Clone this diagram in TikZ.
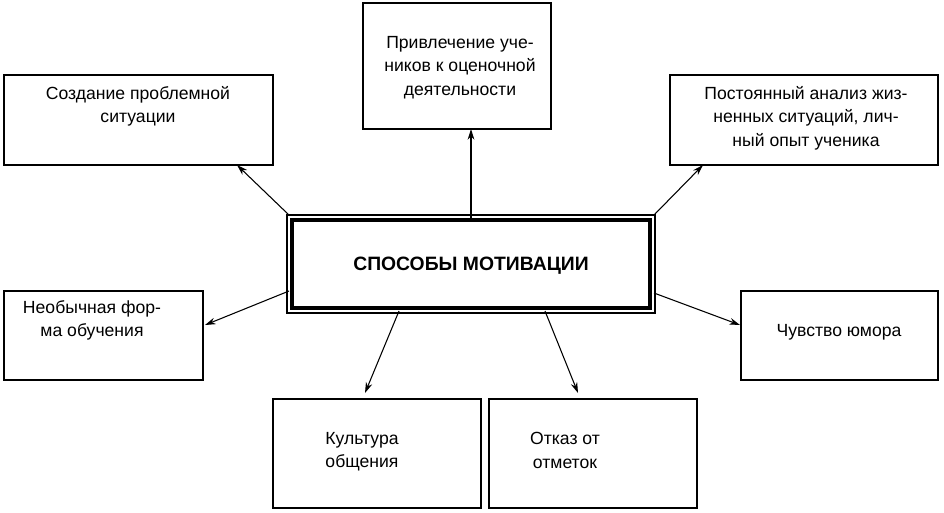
\documentclass[tikz,border=0pt]{standalone}
\usepackage{fontspec}
\setmainfont{Liberation Sans}
\usetikzlibrary{arrows.meta}
\begin{document}
\begin{tikzpicture}[x=0.75pt,y=-0.75pt,>={Stealth[length=8pt,width=5pt]},
  box/.style = {draw,line width=0.8pt},
  txt/.style = {align=center,font=\fontsize{13.2}{17.6}\selectfont,anchor=north,inner sep=0pt}]
\useasboundingbox (0,0) rectangle (944,512);

% boxes
\draw[box] (4,75) rectangle (273,165);
\draw[box] (363,3) rectangle (551,129);
\draw[box] (670,75) rectangle (938,165);
\draw[box] (4,291) rectangle (203,380);
\draw[box] (741,291) rectangle (938,380);
\draw[box] (273,399) rectangle (481,508);
\draw[box] (489,399) rectangle (697,508);

% centre
\draw[line width=0.8pt] (287,215) rectangle (655,313);
\draw[line width=3.4pt] (292,220) rectangle (650,308);
\node[font=\fontsize{14.5}{16}\selectfont\bfseries] (main) at (471,266) {СПОСОБЫ МОТИВАЦИИ};

% texts
\node[txt] (create) at (138,86) {Создание проблемной\\ситуации};
\node[txt] (pupils) at (460,36) {Привлечение уче-\\ников к оценочной\\деятельности};
\node[txt] (life) at (806,86) {Постоянный анализ жиз-\\ненных ситуаций, лич-\\ный опыт ученика};
\node[txt] (form) at (92,300) {Необычная фор-\\ма обучения};
\node[txt] (humor) at (839,324) {Чувство юмора};
\node[txt] (culture) at (362,432) {Культура\\общения};
\node[txt] (marks) at (565,432) {Отказ от\\отметок};

% ends of connectors
\coordinate (c1) at (289,215); \coordinate (e1) at (237,165);
\coordinate (c2) at (471,219); \coordinate (e2) at (471,129);
\coordinate (c3) at (654,215); \coordinate (e3) at (703,165);
\coordinate (c4) at (289,291); \coordinate (e4) at (205,325);
\coordinate (c5) at (654,293); \coordinate (e5) at (740,325);
\coordinate (c6) at (399,311); \coordinate (e6) at (365,393);
\coordinate (c7) at (545,311); \coordinate (e7) at (578,393);

\foreach \i in {1,...,7}
  \draw[->,line width=0.8pt] (c\i) -- (e\i);

\end{tikzpicture}
\end{document}
